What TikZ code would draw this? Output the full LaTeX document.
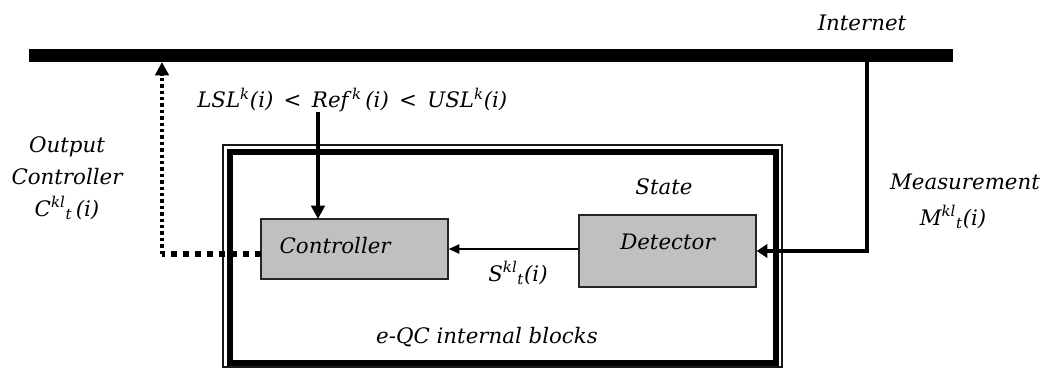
\documentclass[tikz,border=0pt]{standalone}
\usepackage{fontspec}
\setmainfont{DejaVu Serif}
\usetikzlibrary{arrows.meta,calc}
\definecolor{boxgray}{HTML}{C0C0C0}
\begin{document}
\begin{tikzpicture}[x=0.75pt,y=-0.75pt,
  font=\fontsize{16}{19}\selectfont\itshape,
  lbl/.style={inner sep=0pt},
  blockbox/.style={draw=black!85, line width=1.1pt, fill=boxgray, inner sep=0pt},
  bigarrow/.style={line width=2.6pt, -{Triangle[length=10pt,width=10pt]}},
  thinarrow/.style={line width=1.1pt, -{Triangle[length=8pt,width=7pt]}}]
\useasboundingbox (0,0) rectangle (1047,368);

% Internet bus
\node[fill=black, inner sep=0pt, minimum width=693pt, minimum height=9.75pt] (bar) at (491,55.5) {};
\node[lbl] (inet) at (862,23) {Internet};

% e-QC container
\node[draw, line width=4.5pt, outer sep=0pt, inner sep=0pt, minimum width=409.5pt, minimum height=158.25pt] (eqc) at (503,257.5) {};
\draw[line width=1pt, black!90] ($(eqc.north west)+(-7,-7)$) rectangle ($(eqc.south east)+(6,4)$);
\node[lbl] (eqclbl) at (487,337) {e-QC internal blocks};

% blocks
\node[blockbox, minimum width=140.25pt, minimum height=45pt, inner xsep=14pt, text width=112.25pt, align=left] (ctrl) at (354.5,249) {\raisebox{-3pt}[0pt][0pt]{Controller}};
\node[blockbox, minimum width=132.75pt, minimum height=54pt, align=center] (det) at (667.5,251) {\raisebox{1pt}[0pt][0pt]{Detector}};
\node[lbl] (state) at (664,187) {State};

% labels
\node[lbl, anchor=west] (lsl) at (197,100) {LSL\textsuperscript{k}(i) \,<\, Ref\,\textsuperscript{k}\,(i) \,<\, USL\textsuperscript{k}(i)};
\node[lbl] (slbl) at (518,273) {S\textsuperscript{kl}\textsubscript{t}(i)};
\node[lbl] (meas) at (965,182) {Measurement};
\node[lbl] (mlbl) at (953,217) {M\textsuperscript{kl}\textsubscript{t}(i)};
\node[lbl, align=center, font=\fontsize{16}{24}\selectfont\itshape] (outlbl) at (67,178) {Output\\Controller\\C\textsuperscript{kl}\textsubscript{t}\,(i)};

% connectors
\coordinate (refin) at (318,219);
\draw[bigarrow] (lsl.south -| refin) -- (refin);

\coordinate (mtop) at (867,62);
\draw[line width=3pt, -{Triangle[length=8pt,width=10pt]}] (mtop) |- (det.east);

\draw[thinarrow] (det.west |- ctrl.east) -- (ctrl.east);

\coordinate (dstart) at (261,254);
\coordinate (dcorner) at (162,254);
\coordinate (dtip) at (162,62);
\draw[line width=4.5pt, dash pattern=on 4.5pt off 4.5pt] (dstart) -- (dcorner);
\draw[line width=2.6pt, dash pattern=on 2.6pt off 2.2pt, -{Triangle[length=10pt,width=10pt]}] (dcorner) -- (dtip);
\end{tikzpicture}
\end{document}
